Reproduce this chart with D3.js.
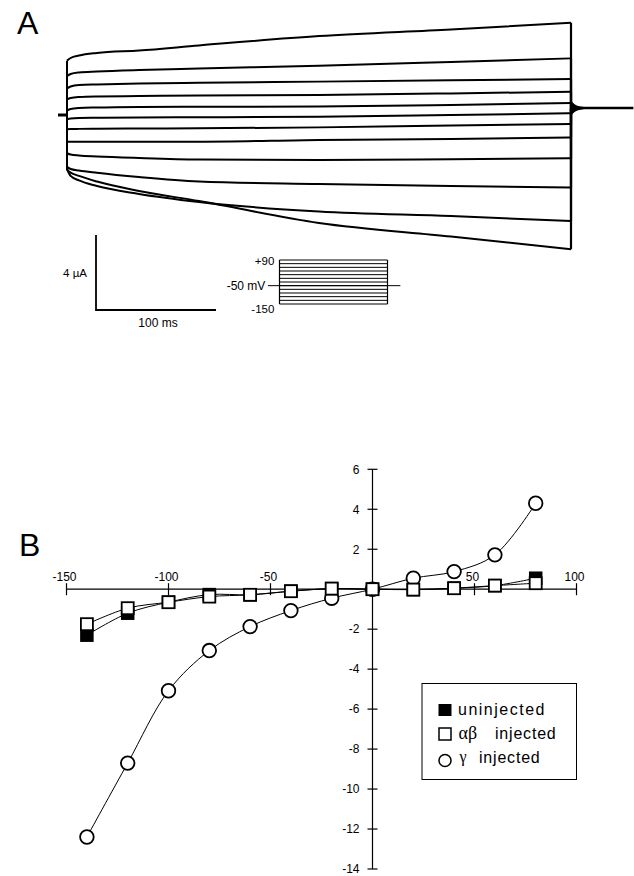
<!DOCTYPE html>
<html>
<head>
<meta charset="utf-8">
<script src="https://cdn.jsdelivr.net/npm/d3@7"></script>
<style>
  body { margin: 0; background: #fff; }
  svg { display: block; font-family: "Liberation Sans", Arial, sans-serif; }
</style>
</head>
<body>
<svg id="fig" width="634" height="876"></svg>
<script>
// ---- panel A: current traces (uA) sampled at these times (ms) during the pulse
const traceTimes = [0, 3, 10, 25, 60, 110, 210, 320, 420];
const traceCurrents = [
    [2.90, 3.04, 3.17, 3.31, 3.44, 3.71, 4.21, 4.56, 4.92],
    [2.08, 2.19, 2.27, 2.32, 2.40, 2.48, 2.63, 2.83, 3.02],
    [1.42, 1.52, 1.60, 1.63, 1.68, 1.72, 1.78, 1.85, 1.92],
    [0.84, 0.91, 0.96, 0.99, 1.01, 1.04, 1.07, 1.15, 1.24],
    [0.23, 0.32, 0.37, 0.40, 0.43, 0.44, 0.45, 0.53, 0.64],
    [-0.23, -0.19, -0.16, -0.15, -0.13, -0.12, -0.09, 0.00, 0.09],
    [-0.76, -0.75, -0.74, -0.73, -0.72, -0.71, -0.66, -0.56, -0.48],
    [-1.42, -1.42, -1.42, -1.42, -1.42, -1.42, -1.33, -1.28, -1.20],
    [-2.04, -2.11, -2.16, -2.21, -2.29, -2.37, -2.40, -2.36, -2.31],
    [-2.77, -2.88, -2.96, -3.08, -3.31, -3.55, -3.68, -3.79, -3.87],
    [-2.88, -3.25, -3.49, -3.79, -4.21, -4.64, -5.15, -5.39, -5.65],
    [-2.93, -3.07, -3.25, -3.55, -4.05, -4.59, -5.76, -6.48, -7.16]
];
const holdingStart = -7.5;     // ms
const holdingCurrent = 0;      // uA
const tailEnd = 472;           // ms
const tailCurrent = 0.37;      // uA
const spikeTimes = [420, 421.5, 424, 428, 434, 440];
const spikeHalf = [0.42, 0.30, 0.17, 0.09, 0.04, 0.02];

// voltage protocol inset
const stepVoltages = [-150, -130, -110, -90, -70, -50, -30, -10, 10, 30, 50, 70, 90];
const holdingVoltage = -50;
const protocolLabels = ["+90", "-150"];

// ---- panel B: I-V data
const voltages = [-140, -120, -100, -80, -60, -40, -20, 0, 20, 40, 60, 80];
const uninjected = [-2.3, -1.2, -0.65, -0.27, -0.28, -0.1, 0.03, 0, -0.02, 0.05, 0.18, 0.55];
const abInjected = [-1.75, -0.95, -0.65, -0.37, -0.28, -0.1, 0.03, 0, -0.02, 0.05, 0.18, 0.3];
const gInjected = [-12.4, -8.7, -5.08, -3.07, -1.87, -1.07, -0.45, 0, 0.55, 0.88, 1.72, 4.3];
const xTicks = [-150, -100, -50, 50, 100];
const yTicks = [6, 4, 2, -2, -4, -6, -8, -10, -12, -14];

const svg = d3.select("#fig");

// ================= Panel A =================
svg.append("text").attr("x", 17).attr("y", 34)
    .attr("font-size", 32).text("A");

const xT = d3.scaleLinear().domain([0, 420]).range([67, 571]);
const yI = d3.scaleLinear().domain([0, 1]).range([115, 96.25]);

const gA = svg.append("g");
const traceLine = d3.line()
    .x(d => xT(d[0]))
    .y(d => yI(d[1]))
    .curve(d3.curveMonotoneX);

traceCurrents.forEach(function (vals) {
    const pts = traceTimes.map((t, i) => [t, vals[i]]);
    gA.append("path")
        .attr("d", traceLine(pts))
        .attr("fill", "none")
        .attr("stroke", "#000")
        .attr("stroke-width", 2);
    // capacitive step on and off
    gA.append("line")
        .attr("x1", xT(0)).attr("x2", xT(0))
        .attr("y1", yI(holdingCurrent)).attr("y2", yI(vals[0]))
        .attr("stroke", "#000").attr("stroke-width", 2);
    gA.append("line")
        .attr("x1", xT(420)).attr("x2", xT(420))
        .attr("y1", yI(vals[vals.length - 1])).attr("y2", yI(tailCurrent))
        .attr("stroke", "#000").attr("stroke-width", 2.2);
});

// holding before pulse and tail after
gA.append("line")
    .attr("x1", xT(holdingStart)).attr("x2", xT(0))
    .attr("y1", yI(holdingCurrent)).attr("y2", yI(holdingCurrent))
    .attr("stroke", "#000").attr("stroke-width", 3);
gA.append("line")
    .attr("x1", xT(420)).attr("x2", xT(tailEnd))
    .attr("y1", yI(tailCurrent)).attr("y2", yI(tailCurrent))
    .attr("stroke", "#000").attr("stroke-width", 2.5);

const spikeArea = d3.area()
    .x(d => xT(d[0]))
    .y0(d => yI(tailCurrent - d[1]))
    .y1(d => yI(tailCurrent + d[1]))
    .curve(d3.curveMonotoneX);
gA.append("path")
    .attr("d", spikeArea(spikeTimes.map((t, i) => [t, spikeHalf[i]])))
    .attr("fill", "#000");

// scale bar: 4 uA, 100 ms
const bar = svg.append("g").attr("transform", "translate(96,310)");
bar.append("path")
    .attr("d", `M0,${-(yI(0) - yI(4))}V0H${xT(100) - xT(0)}`)
    .attr("fill", "none").attr("stroke", "#000").attr("stroke-width", 1.8);
bar.append("text").attr("x", -9).attr("y", -33.5)
    .attr("text-anchor", "end").attr("font-size", 11.5).text("4 \u00b5A");
bar.append("text").attr("x", 62).attr("y", 16.5)
    .attr("text-anchor", "middle").attr("font-size", 12).text("100 ms");

// voltage protocol
const xP = d3.scaleLinear().domain([0, 420]).range([279.5, 387.5]);
const yV = d3.scaleLinear().domain([-150, 90]).range([304, 260]);
const gP = svg.append("g");
gP.selectAll("line.step")
    .data(stepVoltages)
    .join("line")
    .attr("class", "step")
    .attr("x1", xP(0)).attr("x2", xP(420))
    .attr("y1", d => yV(d)).attr("y2", d => yV(d))
    .attr("stroke", "#000").attr("stroke-width", 1);
gP.append("line")
    .attr("x1", xP(0)).attr("x2", xP(0))
    .attr("y1", yV(90)).attr("y2", yV(-150))
    .attr("stroke", "#000").attr("stroke-width", 1.2);
gP.append("line")
    .attr("x1", xP(420)).attr("x2", xP(420))
    .attr("y1", yV(90)).attr("y2", yV(-150))
    .attr("stroke", "#000").attr("stroke-width", 1.2);
gP.append("line")
    .attr("x1", xP(-45)).attr("x2", xP(470))
    .attr("y1", yV(holdingVoltage)).attr("y2", yV(holdingVoltage))
    .attr("stroke", "#000").attr("stroke-width", 1);
gP.append("text").attr("x", xP(-20)).attr("y", yV(90) + 5)
    .attr("text-anchor", "end").attr("font-size", 11.5).text(protocolLabels[0]);
gP.append("text").attr("x", xP(-20)).attr("y", yV(-150) + 9)
    .attr("text-anchor", "end").attr("font-size", 11.5).text(protocolLabels[1]);
gP.append("text").attr("x", xP(-55)).attr("y", yV(holdingVoltage) + 4)
    .attr("text-anchor", "end").attr("font-size", 12).text(holdingVoltage + " mV");

// ================= Panel B =================
svg.append("text").attr("x", 19).attr("y", 556)
    .attr("font-size", 32).text("B");

const x = d3.scaleLinear().domain([-150, 100]).range([66.5, 576.5]);
const y = d3.scaleLinear().domain([-14, 6]).range([869, 469.3]);
const gB = svg.append("g");

// axes
gB.append("line")
    .attr("x1", x(-150)).attr("x2", x(100))
    .attr("y1", y(0)).attr("y2", y(0))
    .attr("stroke", "#000").attr("stroke-width", 1.2);
gB.append("line")
    .attr("x1", x(0)).attr("x2", x(0))
    .attr("y1", y(6)).attr("y2", y(-14))
    .attr("stroke", "#000").attr("stroke-width", 1.2);

gB.selectAll("line.xtick")
    .data(xTicks)
    .join("line")
    .attr("class", "xtick")
    .attr("x1", d => x(d)).attr("x2", d => x(d))
    .attr("y1", y(0) - 6).attr("y2", y(0) + 6)
    .attr("stroke", "#000").attr("stroke-width", 1.2);
gB.selectAll("text.xlab")
    .data(xTicks)
    .join("text")
    .attr("class", "xlab")
    .attr("x", d => x(d) - 2)
    .attr("y", y(0) - 8)
    .attr("text-anchor", "middle")
    .attr("font-size", 12)
    .text(d => d);

gB.selectAll("line.ytick")
    .data(yTicks)
    .join("line")
    .attr("class", "ytick")
    .attr("x1", x(0) - 5).attr("x2", x(0) + 5)
    .attr("y1", d => y(d)).attr("y2", d => y(d))
    .attr("stroke", "#000").attr("stroke-width", 1.2);
gB.selectAll("text.ylab")
    .data(yTicks)
    .join("text")
    .attr("class", "ylab")
    .attr("x", x(0) - 13)
    .attr("y", d => y(d) + 4.3)
    .attr("text-anchor", "end")
    .attr("font-size", 12)
    .text(d => d);

// curves
const ivLine = d3.line()
    .x((d, i) => x(voltages[i]))
    .y(d => y(d))
    .curve(d3.curveCatmullRom);

[uninjected, abInjected, gInjected].forEach(function (vals) {
    gB.append("path")
        .attr("d", ivLine(vals))
        .attr("fill", "none")
        .attr("stroke", "#000")
        .attr("stroke-width", 1);
});

// markers
const sq = 12;
gB.selectAll("circle.g")
    .data(gInjected)
    .join("circle")
    .attr("class", "g")
    .attr("cx", (d, i) => x(voltages[i]))
    .attr("cy", d => y(d))
    .attr("r", 6.8)
    .attr("fill", "#fff").attr("stroke", "#000").attr("stroke-width", 1.8);
gB.selectAll("rect.un")
    .data(uninjected)
    .join("rect")
    .attr("class", "un")
    .attr("x", (d, i) => x(voltages[i]) - sq / 2)
    .attr("y", d => y(d) - sq / 2)
    .attr("width", sq).attr("height", sq)
    .attr("fill", "#000").attr("stroke", "#000").attr("stroke-width", 1.5);
gB.selectAll("rect.ab")
    .data(abInjected)
    .join("rect")
    .attr("class", "ab")
    .attr("x", (d, i) => x(voltages[i]) - sq / 2)
    .attr("y", d => y(d) - sq / 2)
    .attr("width", sq).attr("height", sq)
    .attr("fill", "#fff").attr("stroke", "#000").attr("stroke-width", 1.8);

// legend
const lg = svg.append("g").attr("transform", "translate(422,683.5)");
lg.append("rect")
    .attr("width", 154.5).attr("height", 96)
    .attr("fill", "#fff").attr("stroke", "#000").attr("stroke-width", 1);
lg.append("rect").attr("x", 17).attr("y", 21).attr("width", 12).attr("height", 11)
    .attr("fill", "#000").attr("stroke", "#000").attr("stroke-width", 1);
lg.append("rect").attr("x", 17).attr("y", 44.5).attr("width", 12).attr("height", 12)
    .attr("fill", "#fff").attr("stroke", "#000").attr("stroke-width", 1.5);
lg.append("circle").attr("cx", 23).attr("cy", 77).attr("r", 6)
    .attr("fill", "#fff").attr("stroke", "#000").attr("stroke-width", 1.5);

lg.append("text").attr("x", 36).attr("y", 31.5)
    .attr("font-size", 16).attr("letter-spacing", 1.5).text("uninjected");
lg.append("text").attr("x", 36.5).attr("y", 55.5)
    .attr("font-family", "Liberation Serif, serif").attr("font-size", 18).text("\u03b1\u03b2");
lg.append("text").attr("x", 73).attr("y", 55)
    .attr("font-size", 16).attr("letter-spacing", 0.8).text("injected");
lg.append("text").attr("x", 37.5).attr("y", 78.5)
    .attr("font-family", "Liberation Serif, serif").attr("font-size", 16).text("\u03b3");
lg.append("text").attr("x", 57).attr("y", 79)
    .attr("font-size", 16).attr("letter-spacing", 0.8).text("injected");
</script>
</body>
</html>
